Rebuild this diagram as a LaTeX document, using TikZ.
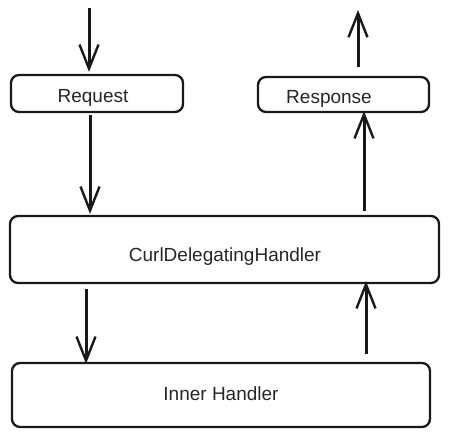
\documentclass[tikz,border=0pt]{standalone}
\usepackage{fontspec}
\setmainfont{Liberation Sans}
\usetikzlibrary{arrows.meta,calc}
\begin{document}
\begin{tikzpicture}[x=1pt,y=-1pt,
  box/.style={draw=black!90, line width=2.3pt, rounded corners=8pt, inner sep=0pt},
  lbl/.style={anchor=base, inner sep=0pt, font=\fontsize{19}{22}\selectfont, text=black!85},
  flow/.style={draw=black!90, line width=3pt,
    -{Straight Barb[length=24pt,width=19pt,line width=2.4pt]}}]
\useasboundingbox (0,0) rectangle (449,436);
\node[box, minimum width=172pt, minimum height=37pt] (req) at (97,93.5) {};
\node[box, minimum width=171pt, minimum height=35pt] (resp) at (343.5,94.5) {};
\node[box, minimum width=429pt, minimum height=67pt] (curl) at (224.5,249.5) {};
\node[box, minimum width=418pt, minimum height=64pt] (inner) at (221,395) {};
\node[lbl] (reqt) at (93,102) {Request};
\node[lbl] (respt) at (329,103) {Response};
\node[lbl] (curlt) at (225,261) {CurlDelegatingHandler};
\node[lbl] (innert) at (221,400) {Inner Handler};
\coordinate (tin) at (89,8);
\coordinate (tout) at (358,10);
\coordinate (xa) at (90,0);
\coordinate (xb) at (364,0);
\coordinate (xc) at (86,0);
\coordinate (xd) at (366,0);
\draw[flow] (tin) -- ($(req.north -| tin)+(0,-2)$);
\draw[flow] ($(req.south -| xa)+(0,2)$) -- ($(curl.north -| xa)+(0,-1)$);
\draw[flow] ($(resp.north -| tout)+(0,-9)$) -- (tout);
\draw[flow] ($(curl.north -| xb)+(0,-4)$) -- ($(resp.south -| xb)+(0,-2)$);
\draw[flow] ($(curl.south -| xc)+(0,5)$) -- ($(inner.north -| xc)+(0,2)$);
\draw[flow] ($(inner.north -| xd)+(0,-8)$) -- ($(curl.south -| xd)+(0,-3)$);
\end{tikzpicture}
\end{document}
